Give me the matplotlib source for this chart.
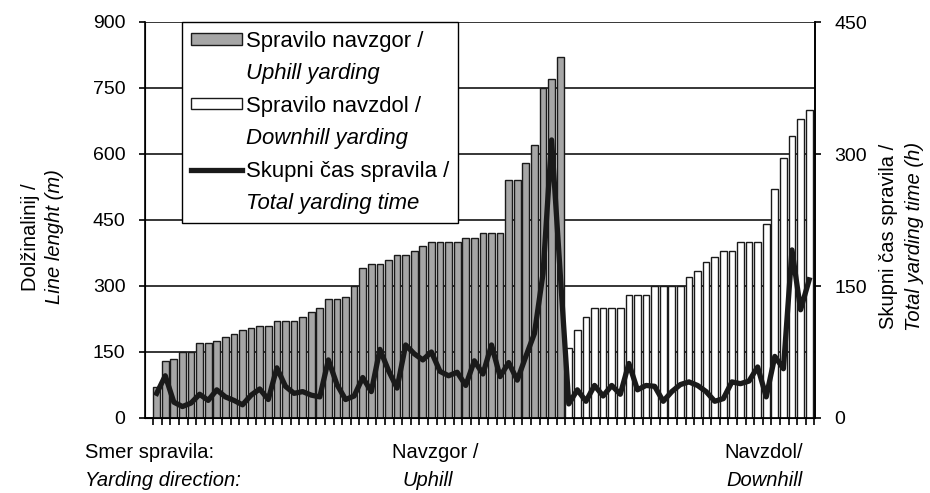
import numpy as np
import matplotlib.pyplot as plt
from matplotlib.patches import Patch
from matplotlib.lines import Line2D

# Dolžina linij (m) - spravilo navzgor / uphill yarding
uphill_len = [70, 130, 135, 150, 150, 170, 170, 175, 185, 190,
              200, 205, 210, 210, 220, 220, 220, 230, 240, 250,
              270, 270, 275, 300, 340, 350, 350, 360, 370, 370,
              380, 390, 400, 400, 400, 400, 410, 410, 420, 420,
              420, 540, 540, 580, 620, 750, 770, 820]
# Dolžina linij (m) - spravilo navzdol / downhill yarding
downhill_len = [160, 200, 230, 250, 250, 250, 250, 280, 280, 280,
                300, 300, 300, 300, 320, 335, 355, 365, 380, 380,
                400, 400, 400, 440, 520, 590, 640, 680, 700]
# Skupni čas spravila (h) / total yarding time
total_time = [28, 48, 18, 13, 17, 27, 20, 32, 24, 20,
              15, 26, 33, 21, 57, 36, 28, 30, 26, 24,
              66, 38, 21, 25, 46, 30, 78, 54, 34, 83,
              73, 66, 75, 53, 48, 52, 37, 65, 50, 83,
              47, 63, 43, 70, 96, 164, 316, 165,
              16, 32, 19, 37, 25, 37, 27, 62, 32, 37,
              36, 19, 30, 38, 41, 37, 30, 19, 22, 41,
              39, 42, 58, 24, 70, 56, 191, 123, 157]

left_ticks = [0, 150, 300, 450, 600, 750, 900]
right_ticks = [0, 150, 300, 450]

plt.rcParams['font.family'] = ['Liberation Sans', 'DejaVu Sans']
FS = 14.5
W, H = 930, 493


def fx(px):
    return px / W


def fy(py):
    return 1 - py / H


fig = plt.figure(figsize=(W / 100, H / 100), dpi=100)
ax = fig.add_axes([fx(145), fy(418), (815 - 145) / W, (418 - 22) / H])

n_up = len(uphill_len)
n_down = len(downhill_len)
x_up = np.arange(n_up)
x_down = np.arange(n_up, n_up + n_down)
x_all = np.arange(n_up + n_down)

bars_up = ax.bar(x_up, uphill_len, width=0.78, color='#a6a6a6',
                 edgecolor='#1a1a1a', linewidth=1.0, zorder=2)
bars_down = ax.bar(x_down, downhill_len, width=0.78, color='white',
                   edgecolor='#1a1a1a', linewidth=1.0, zorder=2)

ax.set_xlim(-1.36, x_all[-1] + 0.68)
ax.set_ylim(0, 900)
ax.set_yticks(left_ticks)
ax.yaxis.grid(True, color='black', linewidth=1.1)
ax.set_axisbelow(True)
ax.set_xticks(np.append(x_all - 0.4, x_all[-1] + 0.6))
ax.set_xticklabels([])
ax.tick_params(axis='x', length=5, width=1.2, direction='out')
ax.tick_params(axis='y', length=4, width=1.2, pad=10, labelsize=FS - 0.5)
for s in ['left', 'right', 'bottom']:
    ax.spines[s].set_linewidth(1.2)
ax.spines['top'].set_visible(False)

# skupni čas na desni osi
ax2 = ax.twinx()
line, = ax2.plot(x_all, total_time, color='#1a1a1a', linewidth=3.8)
ax2.set_ylim(0, 450)
ax2.set_yticks(right_ticks)
ax2.tick_params(axis='y', length=4, width=1.2, pad=10, labelsize=FS - 0.5)
ax2.spines['top'].set_visible(False)
ax2.spines['right'].set_linewidth(1.2)

# legenda (drugi del napisa v ležečem tisku)
blank = Line2D([], [], color='none')
handles = [Patch(facecolor='#a6a6a6', edgecolor='#1a1a1a'), blank,
           Patch(facecolor='white', edgecolor='#1a1a1a'), blank,
           Line2D([], [], color='#1a1a1a', linewidth=3.8), blank]
labels = ['Spravilo navzgor /', 'Uphill yarding',
          'Spravilo navzdol /', 'Downhill yarding',
          'Skupni čas spravila /', 'Total yarding time']
leg = ax2.legend(handles, labels, loc='upper left',
                 bbox_to_anchor=((182 - 145) / 670, 1.0), fontsize=15.9,
                 frameon=True, fancybox=False, framealpha=1,
                 edgecolor='black', handlelength=2.3, handleheight=0.4,
                 handletextpad=0.2, labelspacing=0.52, borderpad=0.4,
                 borderaxespad=0)
leg.get_frame().set_linewidth(1.0)
for i, t in enumerate(leg.get_texts()):
    if i % 2 == 1:
        t.set_fontstyle('italic')

# naslovi osi
fig.text(fx(31), fy(237), 'Dolžinalinij /', rotation=90,
         ha='center', va='center', fontsize=FS)
fig.text(fx(55), fy(237), 'Line lenght (m)', rotation=90,
         ha='center', va='center', fontsize=FS, style='italic')
fig.text(fx(888), fy(236), 'Skupni čas spravila /', rotation=90,
         ha='center', va='center', fontsize=FS)
fig.text(fx(914), fy(236), 'Total yarding time (h)', rotation=90,
         ha='center', va='center', fontsize=FS, style='italic')

# smer spravila pod osjo
fig.text(fx(85), fy(452), 'Smer spravila:', ha='left', va='center',
         fontsize=FS)
fig.text(fx(85), fy(481), 'Yarding direction:', ha='left', va='center',
         fontsize=FS, style='italic')
fig.text(fx(435), fy(452), 'Navzgor /', ha='center', va='center',
         fontsize=FS)
fig.text(fx(428), fy(481), 'Uphill', ha='center', va='center',
         fontsize=FS, style='italic')
fig.text(fx(764), fy(452), 'Navzdol/', ha='center', va='center',
         fontsize=FS)
fig.text(fx(764), fy(481), 'Downhill', ha='center', va='center',
         fontsize=FS, style='italic')

fig.savefig('out.png', dpi=100)
